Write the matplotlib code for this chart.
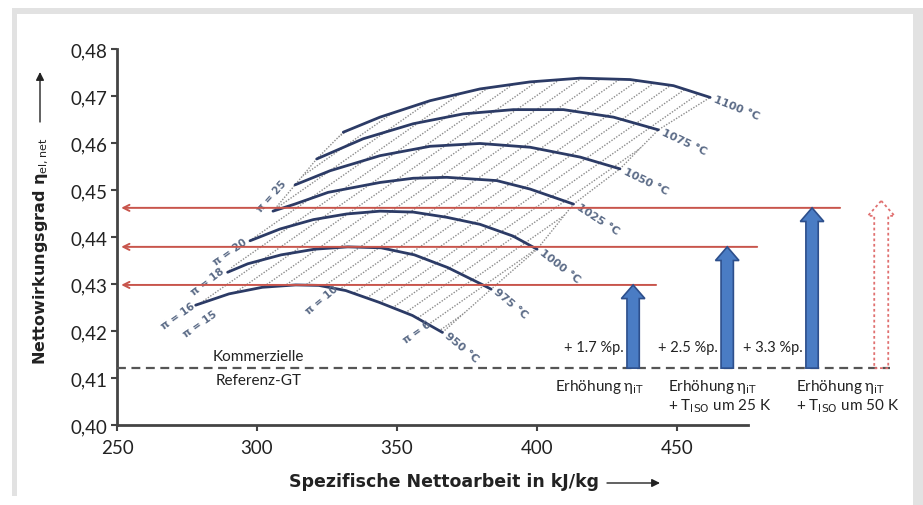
import numpy as np
import matplotlib.pyplot as plt
from matplotlib.patches import Polygon, FancyArrow, Rectangle

plt.rcParams['font.family'] = ['Lato', 'DejaVu Sans']

# Isotherms (turbine inlet temperature): specific net work in kJ/kg, net efficiency
temp_labels = ['950 °C', '975 °C', '1000 °C', '1025 °C', '1050 °C', '1075 °C', '1100 °C']
work_950 = [278.1, 290.0, 301.9, 313.8, 322.1, 331.7, 343.6, 355.5, 366.2]
eta_950 = [0.4255, 0.4279, 0.4293, 0.4298, 0.4297, 0.4286, 0.4261, 0.4233, 0.4197]
work_975 = [289.5, 296.7, 308.6, 320.5, 332.4, 344.3, 356.2, 368.1, 380.0, 383.6]
eta_975 = [0.4325, 0.4343, 0.4362, 0.4374, 0.4379, 0.4377, 0.4362, 0.4335, 0.4300, 0.4289]
work_1000 = [297.5, 308.2, 320.1, 332.0, 343.9, 355.8, 367.7, 379.6, 391.4, 400.0]
eta_1000 = [0.4392, 0.4417, 0.4437, 0.4449, 0.4455, 0.4453, 0.4442, 0.4427, 0.4402, 0.4374]
work_1025 = [305.7, 313.5, 325.4, 343.9, 355.8, 367.7, 385.6, 397.5, 413.0]
eta_1025 = [0.4455, 0.4470, 0.4495, 0.4516, 0.4525, 0.4527, 0.4520, 0.4502, 0.4470]
work_1050 = [313.6, 326.1, 343.9, 361.8, 379.6, 397.5, 415.4, 429.6]
eta_1050 = [0.4511, 0.4541, 0.4573, 0.4593, 0.4599, 0.4591, 0.4570, 0.4545]
work_1075 = [321.3, 337.9, 355.8, 373.7, 391.5, 409.4, 427.3, 443.3]
eta_1075 = [0.4566, 0.4609, 0.4641, 0.4662, 0.4671, 0.4671, 0.4655, 0.4628]
work_1100 = [330.8, 343.9, 361.8, 379.6, 397.5, 415.4, 433.2, 448.7, 461.8]
eta_1100 = [0.4623, 0.4655, 0.4690, 0.4715, 0.4730, 0.4738, 0.4735, 0.4722, 0.4697]

# pressure ratio labels
pi_labels = ['π = 16', 'π = 15', 'π = 18', 'π = 20', 'π = 25', 'π = 10', 'π = 6']
pi_work = [271.8, 279.6, 282.5, 290.4, 305.4, 323.2, 357.1]
pi_eta = [0.4234, 0.4215, 0.4306, 0.4370, 0.4487, 0.4268, 0.4198]

# reference GT and improvement steps
eta_ref = 0.4121
ref_end = 526.0
step_work = [434.3, 467.9, 498.2]
step_eta = [0.4298, 0.4379, 0.4462]
red_end = [442.5, 478.6, 508.2]
gain_labels = ['+ 1.7 %p.', '+ 2.5 %p.', '+ 3.3 %p.']
step_line1 = [r'Erhöhung η$_{\mathrm{iT}}$'] * 3
step_line2 = ['', r'+ T$_{\mathrm{ISO}}$ um 25 K', r'+ T$_{\mathrm{ISO}}$ um 50 K']
step_text_x = [406.4, 446.8, 492.5]
dotted_work = 522.9
dotted_eta = 0.4477

xticks = [250, 300, 350, 400, 450]
yticks = [0.40, 0.41, 0.42, 0.43, 0.44, 0.45, 0.46, 0.47, 0.48]
ytick_labels = ['0,40', '0,41', '0,42', '0,43', '0,44', '0,45', '0,46', '0,47', '0,48']

curves = [(work_950, eta_950), (work_975, eta_975), (work_1000, eta_1000),
          (work_1025, eta_1025), (work_1050, eta_1050), (work_1075, eta_1075),
          (work_1100, eta_1100)]
label_rot = [-40, -40, -38, -33, -26, -25, -22]

navy = '#2c3b66'
label_col = '#5a6a86'
red = '#c8554c'
axis_col = '#444444'
txt = '#222222'

fig = plt.figure(figsize=(9.23, 5.06), dpi=100)
fig.patch.set_facecolor('white')
frame = '#e2e2e2'
for r in [(12/923, 491/506, 911/923, 6/506), (12/923, 9/506, 5/923, 488/506),
          (913/923, 0, 10/923, 497/506)]:
    fig.patches.append(Rectangle(r[:2], r[2], r[3], transform=fig.transFigure,
                                 facecolor=frame, edgecolor='none'))

ax = fig.add_axes([117/923, 80/506, 783/923, 376/506])
ax.set_xlim(250, 529.6)
ax.set_ylim(0.40, 0.48)
ax.patch.set_alpha(0)

# hatched region between isotherms (lines of constant pressure ratio)
region = list(zip(work_950, eta_950))
region += [(w[-1], e[-1]) for w, e in curves[1:]]
region += list(zip(work_1100[::-1], eta_1100[::-1]))
region += [(w[0], e[0]) for w, e in curves[-2:0:-1]]
clip = Polygon(region, closed=True, transform=ax.transData, facecolor='none',
               edgecolor='none')
ax.add_patch(clip)
slope = 0.70 * 2.8 / 4700.0
for x0 in np.arange(175, 330, 7.1):
    xs = np.array([x0, x0 + 200])
    ln, = ax.plot(xs, 0.40 + slope * (xs - x0), color='#8c8c8c', lw=1.0,
                  ls=(0, (1, 1.1)), zorder=1)
    ln.set_clip_path(clip)

# boundary lines through curve ends (pi = 6) and starts (pi = 25)
ax.plot([w[-1] for w, e in curves], [e[-1] for w, e in curves], color='#8c8c8c',
        lw=1.0, ls=(0, (1, 1.1)), zorder=1)
ax.plot([w[0] for w, e in curves[3:]], [e[0] for w, e in curves[3:]],
        color='#8c8c8c', lw=1.0, ls=(0, (1, 1.1)), zorder=1)

for (w, e), lab, rot in zip(curves, temp_labels, label_rot):
    ax.plot(w, e, color=navy, lw=2.0, solid_capstyle='round',
            solid_joinstyle='round', zorder=2)
    ax.annotate(lab, (w[-1], e[-1]), xytext=(4, -1), textcoords='offset pixels',
                ha='left', va='center', rotation=rot, rotation_mode='anchor',
                fontsize=8, fontweight='bold', color=label_col,
                family='DejaVu Sans')

pi_rot = [35, 35, 37, 35, 48, 40, 35]
for lab, w, e, rot in zip(pi_labels, pi_work, pi_eta, pi_rot):
    ax.text(w, e, lab, rotation=rot, ha='center', va='center', fontsize=7.5,
            fontweight='bold', color=label_col, family='DejaVu Sans',
            rotation_mode='anchor')

# reference line
ax.plot([250, ref_end], [eta_ref, eta_ref], color='#555555', lw=1.6,
        ls=(0, (4, 2.5)), zorder=3, clip_on=False)
ax.text(300.4, 0.4147, 'Kommerzielle', ha='center', va='center', fontsize=11,
        color=txt)
ax.text(300.4, 0.4096, 'Referenz-GT', ha='center', va='center', fontsize=11,
        color=txt)

# red target lines with arrow to the axis
for y, xe in zip(step_eta, red_end):
    ax.annotate('', xy=(251.5, y), xytext=(xe, y),
                arrowprops=dict(arrowstyle='->', color=red, lw=1.4,
                                mutation_scale=11, shrinkA=0, shrinkB=0),
                zorder=3)

# blue improvement arrows
for x, y, g in zip(step_work, step_eta, gain_labels):
    ax.add_patch(FancyArrow(x, eta_ref, 0, y - eta_ref, width=4.4,
                            head_width=8.4, head_length=0.0029,
                            length_includes_head=True, facecolor='#4a7cc4',
                            edgecolor='#2d4f8c', lw=1.2, zorder=4))
    ax.annotate(g, (x, 0.4166), xytext=(-9, 0), textcoords='offset pixels',
                ha='right', va='center', fontsize=10.5, color=txt)

for x, l1, l2 in zip(step_text_x, step_line1, step_line2):
    ax.text(x, 0.4083, l1, ha='left', va='center', fontsize=11, color=txt)
    if l2:
        ax.text(x, 0.4043, l2, ha='left', va='center', fontsize=11, color=txt)

# dashed red arrow (further potential)
ax.add_patch(FancyArrow(dotted_work, eta_ref, 0, dotted_eta - eta_ref, width=5.0,
                        head_width=9.5, head_length=0.0032,
                        length_includes_head=True, fill=False, edgecolor='#e07070',
                        lw=1.3, ls=(0, (1.5, 1.5)), zorder=4))

# axes styling
for s in ['top', 'right']:
    ax.spines[s].set_visible(False)
for s in ['left', 'bottom']:
    ax.spines[s].set_color(axis_col)
    ax.spines[s].set_linewidth(2.0)
ax.spines['bottom'].set_bounds(250, 475.4)
ax.set_xticks(xticks)
ax.set_yticks(yticks)
ax.set_yticklabels(ytick_labels)
ax.tick_params(direction='out', length=4, width=1.5, color=axis_col,
               labelsize=13.5, labelcolor=txt)
ax.tick_params(axis='x', pad=6)
ax.tick_params(axis='y', pad=3)

fig.text(444/923, 24/506, 'Spezifische Nettoarbeit in kJ/kg', ha='center',
         va='center', fontsize=12.5, fontweight='bold', color=txt,
         family='DejaVu Sans')
fig.text(41/923, 0.503, r'Nettowirkungsgrad η$_{\mathrm{el,net}}$',
         rotation=90, ha='center', va='center', fontsize=11.5,
         fontweight='bold', color=txt, family='DejaVu Sans')
ax.annotate('', xy=(660/923, 22/506), xytext=(607/923, 22/506),
            xycoords='figure fraction',
            arrowprops=dict(arrowstyle='-|>', color=txt, lw=1.0,
                            mutation_scale=12, shrinkA=0, shrinkB=0))
ax.annotate('', xy=(40/923, 433/506), xytext=(40/923, 383/506),
            xycoords='figure fraction',
            arrowprops=dict(arrowstyle='-|>', color=txt, lw=1.0,
                            mutation_scale=12, shrinkA=0, shrinkB=0))

fig.savefig('out.png', dpi=100, facecolor='white')
